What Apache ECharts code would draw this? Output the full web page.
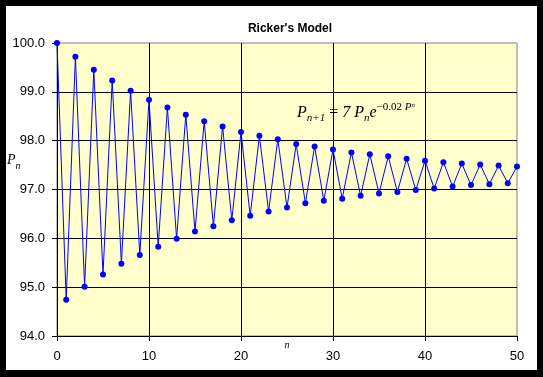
<!DOCTYPE html>
<html>
<head>
<meta charset="utf-8">
<script src="https://cdn.jsdelivr.net/npm/echarts@6/dist/echarts.min.js"></script>
<style>
  html, body { margin: 0; padding: 0; background: #000; }
  #chart { width: 543px; height: 377px; }
</style>
</head>
<body>
<div id="chart"></div>
<script>
// n = 0..50
const steps = [0,1,2,3,4,5,6,7,8,9,10,11,12,13,14,15,16,17,18,19,20,21,22,23,24,25,
  26,27,28,29,30,31,32,33,34,35,36,37,38,39,40,41,42,43,44,45,46,47,48,49,50];
const population = [
  100.00, 94.74, 99.72, 95.01, 99.45, 95.26, 99.23, 95.48, 99.02, 95.66,
  98.84, 95.83, 98.68, 95.99, 98.53, 96.14, 98.40, 96.25, 98.29, 96.37,
  98.18, 96.46, 98.10, 96.55, 98.03, 96.63, 97.93, 96.72, 97.88, 96.77,
  97.82, 96.81, 97.76, 96.87, 97.72, 96.92, 97.68, 96.95, 97.63, 96.99,
  97.59, 97.02, 97.56, 97.06, 97.53, 97.09, 97.51, 97.11, 97.49, 97.13,
  97.47
];

const chart = echarts.init(document.getElementById('chart'));

const serif = "'Liberation Serif', 'Times New Roman', serif";
const sans = "'Liberation Sans', Arial, sans-serif";

chart.setOption({
  backgroundColor: '#000',
  animation: false,
  title: {
    text: "Ricker's Model",
    left: 285,
    textAlign: 'center',
    top: 18,
    textStyle: { fontFamily: sans, fontSize: 12, fontWeight: 'bold', color: '#000' }
  },
  graphic: [
    {
      type: 'rect', z: -10, silent: true,
      shape: { x: 6, y: 6, width: 531, height: 364 },
      style: { fill: '#fff' }
    },
    {
      type: 'text', left: 7, top: 153, z: 10,
      style: {
        text: '{p|P}{s|n}',
        rich: {
          p: { fontFamily: serif, fontStyle: 'italic', fontSize: 14, color: '#000', lineHeight: 18, verticalAlign: 'top' },
          s: { fontFamily: serif, fontStyle: 'italic', fontSize: 10, color: '#000', lineHeight: 18, verticalAlign: 'bottom', padding: [6, 0, 0, 0] }
        }
      }
    },
    {
      type: 'text', left: 297, top: 102, z: 10,
      style: {
        text: '{p|P}{s|n+1}{t| = }{p|7 P}{s|n}{p|e}{u|\u22120.02 }{up|P}{us|n}',
        rich: {
          p: { fontFamily: serif, fontStyle: 'italic', fontSize: 16, color: '#000', lineHeight: 22, verticalAlign: 'middle' },
          t: { fontFamily: serif, fontSize: 16, color: '#000', lineHeight: 22, verticalAlign: 'middle' },
          s: { fontFamily: serif, fontStyle: 'italic', fontSize: 11, color: '#000', lineHeight: 22, verticalAlign: 'bottom', padding: [10, 0, 0, 0] },
          u: { fontFamily: serif, fontSize: 11, color: '#000', lineHeight: 22, verticalAlign: 'top', padding: [0, 0, 10, 0] },
          up: { fontFamily: serif, fontStyle: 'italic', fontSize: 11, color: '#000', lineHeight: 22, verticalAlign: 'top', padding: [0, 0, 10, 0] },
          us: { fontFamily: serif, fontStyle: 'italic', fontSize: 7, color: '#999', lineHeight: 22, verticalAlign: 'top', padding: [0, 0, 6, 0] }
        }
      }
    }
  ],
  grid: {
    left: 57, top: 43, right: 26, bottom: 41,
    outerBoundsMode: 'none',
    show: true,
    backgroundColor: '#ffffcc',
    borderColor: '#808080',
    borderWidth: 1
  },
  xAxis: {
    type: 'value',
    min: 0, max: 50, interval: 10,
    name: 'n',
    nameLocation: 'middle',
    nameGap: 4,
    nameMoveOverlap: false,
    nameTextStyle: { fontFamily: serif, fontStyle: 'italic', fontSize: 10, color: '#000', verticalAlign: 'top' },
    axisLine: { show: true, onZero: false, lineStyle: { color: '#000', width: 1 } },
    axisTick: { show: true, inside: false, length: 5, lineStyle: { color: '#000' } },
    axisLabel: { margin: 14, fontFamily: sans, fontSize: 13, color: '#000' },
    splitLine: { show: true, showMinLine: false, showMaxLine: false, lineStyle: { color: '#000', width: 1 } }
  },
  yAxis: {
    type: 'value',
    min: 94, max: 100, interval: 1,
    axisLine: { show: true, onZero: false, lineStyle: { color: '#000', width: 1 } },
    axisTick: { show: true, inside: false, length: 5, lineStyle: { color: '#000' } },
    axisLabel: {
      margin: 12, fontFamily: sans, fontSize: 13, color: '#000',
      formatter: v => v.toFixed(1)
    },
    splitLine: { show: true, showMinLine: false, showMaxLine: false, lineStyle: { color: '#000', width: 1 } }
  },
  series: [{
    type: 'line',
    data: steps.map((n, i) => [n, population[i]]),
    symbol: 'circle',
    symbolSize: 6,
    lineStyle: { color: '#0000ff', width: 1 },
    itemStyle: { color: '#0000ff' }
  }]
});
</script>
</body>
</html>
